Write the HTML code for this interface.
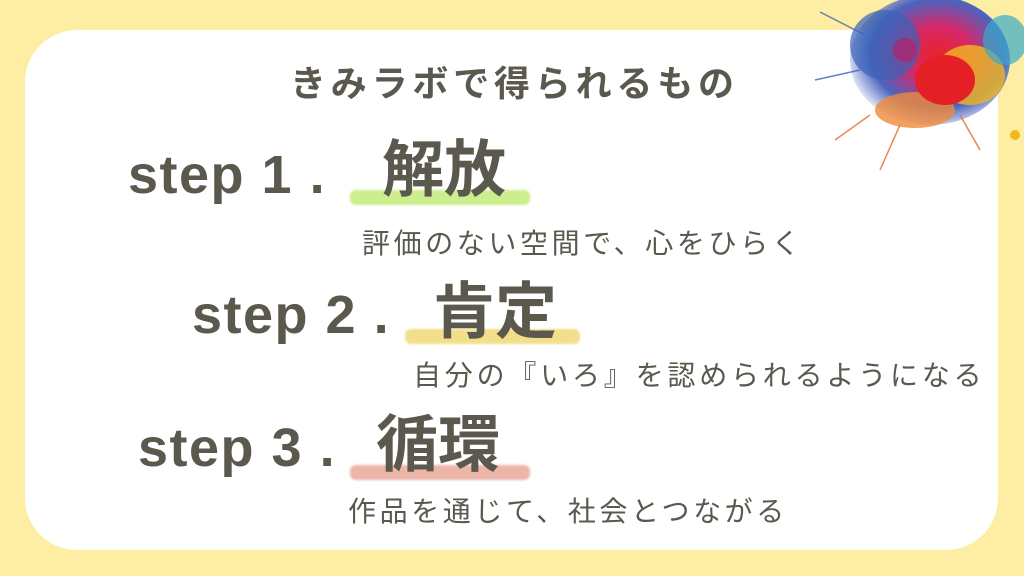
<!DOCTYPE html>
<html><head><meta charset="utf-8"><style>
body{margin:0;width:1024px;height:576px;background:#fdeea3;overflow:hidden;position:relative;font-family:"Liberation Sans","Noto Sans CJK JP",sans-serif;color:#5b594e}
.card{position:absolute;left:25px;top:30px;width:973px;height:520px;background:#fff;border-radius:52px}
.t{position:absolute;white-space:nowrap;line-height:1}
.b{font-weight:bold}
.s{font-size:54px;letter-spacing:1.5px}
.hl{position:absolute;border-radius:6px;filter:blur(1px)}
</style></head><body>
<div class="card"></div>
<svg style="position:absolute;left:810px;top:0" width="214" height="190" viewBox="0 0 214 190">
<defs><radialGradient id="g" cx="0.55" cy="0.45" r="0.6"><stop offset="0" stop-color="#e8232b"/><stop offset="0.35" stop-color="#d6286a"/><stop offset="0.7" stop-color="#4a64c0"/><stop offset="1" stop-color="#4a64c0" stop-opacity="0"/></radialGradient></defs>
<ellipse cx="120" cy="60" rx="80" ry="65" fill="url(#g)"/>
<ellipse cx="75" cy="45" rx="35" ry="35" fill="#3b62b8" opacity="0.7"/>
<ellipse cx="160" cy="75" rx="35" ry="30" fill="#f2b620" opacity="0.8"/>
<ellipse cx="195" cy="40" rx="22" ry="25" fill="#3aa9c9" opacity="0.7"/>
<ellipse cx="105" cy="110" rx="40" ry="18" fill="#f08a3a" opacity="0.8"/>
<ellipse cx="135" cy="80" rx="30" ry="25" fill="#e41f26"/>
<circle cx="95" cy="50" r="12" fill="#c2185b" opacity="0.6"/>
<circle cx="205" cy="135" r="5" fill="#f2b620"/>
<g stroke="#e46a2a" stroke-width="1.5" opacity="0.8"><line x1="60" y1="115" x2="25" y2="140"/><line x1="90" y1="125" x2="70" y2="170"/><line x1="150" y1="115" x2="170" y2="150"/></g>
<g stroke="#3b62b8" stroke-width="1.5" opacity="0.8"><line x1="55" y1="35" x2="10" y2="12"/><line x1="50" y1="70" x2="5" y2="80"/></g>
</svg>
<div class="t b" style="left:290px;top:66px;font-size:36px;letter-spacing:4.8px">きみラボで得られるもの</div>

<div class="hl" style="left:350px;top:190px;width:180px;height:15px;background:#cdee8e"></div>
<div class="t b s" style="left:128px;top:148px">step 1 .</div>
<div class="t b" style="left:382px;top:140px;font-size:62px">解放</div>
<div class="t" style="left:362px;top:230px;font-size:28px;letter-spacing:3.6px">評価のない空間で、心をひらく</div>

<div class="hl" style="left:405px;top:329px;width:175px;height:15px;background:#f3de8a"></div>
<div class="t b s" style="left:192px;top:288px">step 2 .</div>
<div class="t b" style="left:433px;top:282px;font-size:62px">肯定</div>
<div class="t" style="left:413px;top:362px;font-size:28px;letter-spacing:3.8px">自分の『いろ』を認められるようになる</div>

<div class="hl" style="left:350px;top:465px;width:180px;height:15px;background:#ecb5a8"></div>
<div class="t b s" style="left:138px;top:421px">step 3 .</div>
<div class="t b" style="left:376px;top:415px;font-size:62px">循環</div>
<div class="t" style="left:348px;top:498px;font-size:28px;letter-spacing:3.6px">作品を通じて、社会とつながる</div>
</body></html>
